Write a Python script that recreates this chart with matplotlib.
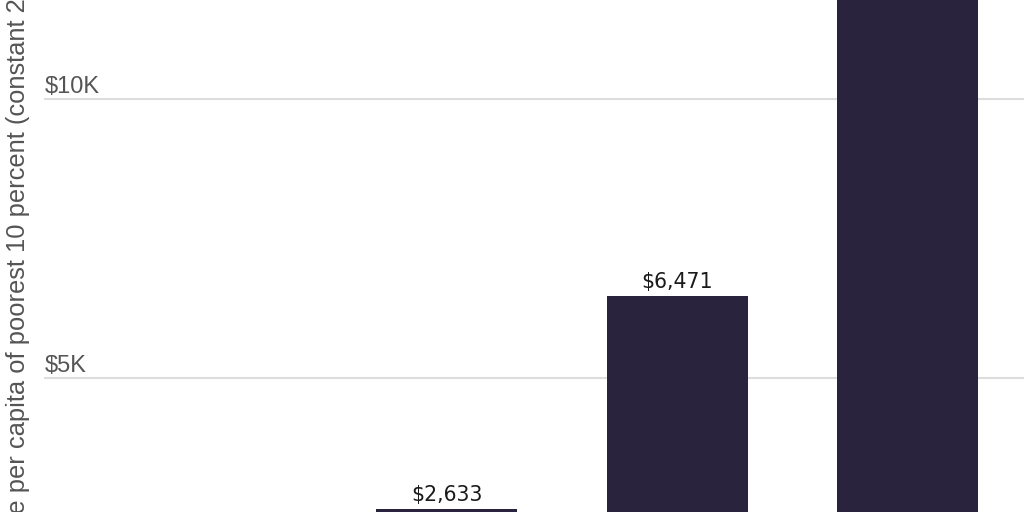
import matplotlib.pyplot as plt
from matplotlib import transforms

# income groups (bottom labels fall outside the crop)
groups = ["Low income", "Lower-middle income", "Upper-middle income", "High income"]
values = [1180, 2633, 6471, 15300]
value_labels = ["$1,180", "$2,633", "$6,471", "$15,300"]
ytick_vals = [0, 5000, 10000, 15000]
ytick_labels = ["$0", "$5K", "$10K", "$15K"]
ylabel = "Income per capita of poorest 10 percent (constant 2017 international-$)"

bar_color = "#29233d"
sans = ["Liberation Sans", "DejaVu Sans"]

fig = plt.figure(figsize=(10.24, 5.12), dpi=100)
# axes is bigger than the figure: the picture is a crop of a larger chart
ax = fig.add_axes([44 / 1024, -144 / 512, 1036 / 1024, 974 / 512])

x = list(range(len(groups)))
ax.bar(x, values, width=0.613, color=bar_color, zorder=3)
ax.set_xlim(-0.752, 3.752)
ax.set_ylim(0, 17500)

# gridlines
for v in ytick_vals:
    ax.axhline(v, color="#dddddd", lw=1.5, zorder=1)

# y tick labels sit on top of the gridlines
trans = transforms.blended_transform_factory(ax.transAxes, ax.transData)
for v, lab in zip(ytick_vals, ytick_labels):
    ax.annotate(lab, xy=(0, v), xycoords=trans, xytext=(0.7, 4.3),
                textcoords="offset points", ha="left", va="baseline",
                fontsize=17, color="#555555", family=sans)

# value labels above bars
for xi, v, lab in zip(x, values, value_labels):
    ax.annotate(lab, xy=(xi, v), xytext=(0, 5.8), textcoords="offset points",
                ha="center", va="baseline", fontsize=14.8, color="#1a1a1a")

ax.set_xticks(x)
ax.set_xticklabels(groups, fontsize=14)
ax.set_yticks([])
ax.tick_params(axis="x", length=0)
for s in ax.spines.values():
    s.set_visible(False)

ax.set_ylabel(ylabel, fontsize=18.4, color="#555555", family=sans)
ax.yaxis.set_label_coords(-0.0135, 0.488)

fig.savefig("out.png", dpi=100)
